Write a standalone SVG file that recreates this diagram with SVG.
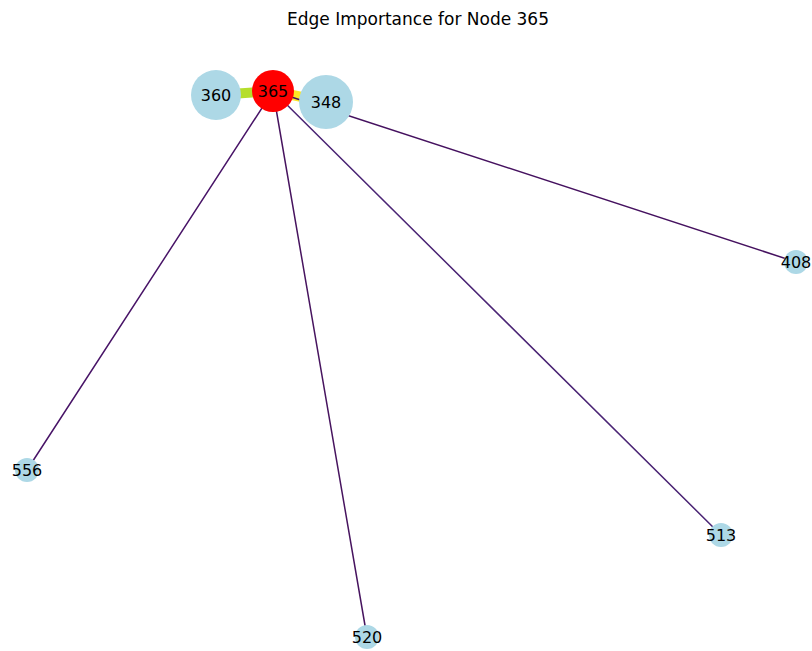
<svg xmlns="http://www.w3.org/2000/svg" width="812" height="651" viewBox="0 0 812 651">
<style>
.n{fill:#add8e6}
.t{font-family:"DejaVu Sans",sans-serif;font-size:16px;fill:#000;text-anchor:middle;dominant-baseline:central}
.e{fill:none;stroke-linecap:round}
</style>
<rect width="812" height="651" fill="#fff"/>
<text x="418" y="25" style="font-family:'DejaVu Sans',sans-serif;font-size:17px;text-anchor:middle" fill="#000">Edge Importance for Node 365</text>
<g id="edges">
<line class="e" x1="273" y1="91" x2="216" y2="95" stroke="#b5de2b" stroke-width="10"/>
<line class="e" x1="273" y1="91" x2="326" y2="102" stroke="#fde725" stroke-width="10"/>
<line class="e" x1="273" y1="91" x2="796" y2="262" stroke="#45115f" stroke-width="1.5"/>
<line class="e" x1="273" y1="91" x2="27" y2="470" stroke="#481467" stroke-width="1.5"/>
<line class="e" x1="273" y1="91" x2="721" y2="535" stroke="#4a2474" stroke-width="1.5"/>
<line class="e" x1="273" y1="91" x2="367" y2="637" stroke="#47145f" stroke-width="1.5"/>
</g>
<g id="node-360"><circle class="n" cx="216" cy="95" r="25"/><text class="t" x="216" y="95">360</text></g>
<g id="node-365"><circle cx="273" cy="91" r="21" fill="#ff0000"/><text class="t" x="273" y="91">365</text></g>
<g id="node-348"><circle class="n" cx="326" cy="102" r="27"/><text class="t" x="326" y="102">348</text></g>
<g id="node-408"><circle class="n" cx="796" cy="262" r="12"/><text class="t" x="796" y="262">408</text></g>
<g id="node-556"><circle class="n" cx="27" cy="470" r="12"/><text class="t" x="27" y="470">556</text></g>
<g id="node-513"><circle class="n" cx="721" cy="535" r="12"/><text class="t" x="721" y="535">513</text></g>
<g id="node-520"><circle class="n" cx="367" cy="637" r="12"/><text class="t" x="367" y="637">520</text></g>
</svg>
